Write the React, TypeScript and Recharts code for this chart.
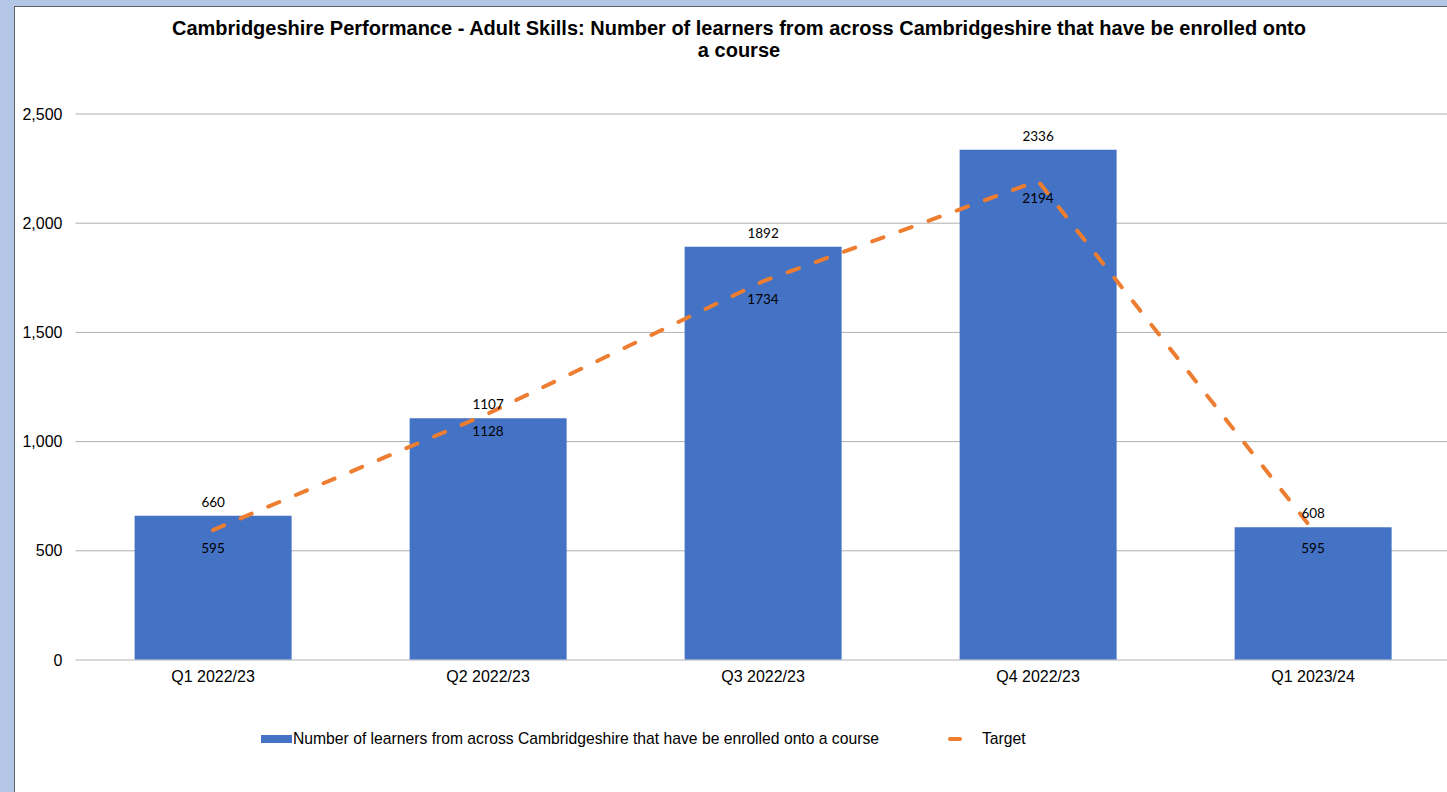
import React from "react";
import {
  ComposedChart,
  Bar,
  Line,
  XAxis,
  YAxis,
  CartesianGrid,
  LabelList,
} from "recharts";

// Quarter labels along the category axis
const quarters = ["Q1 2022/23", "Q2 2022/23", "Q3 2022/23", "Q4 2022/23", "Q1 2023/24"];
// Learners enrolled onto a course, per quarter
const enrolled = [660, 1107, 1892, 2336, 608];
// Target for each quarter
const target = [595, 1128, 1734, 2194, 595];
// Value-axis ticks
const yTicks = [0, 500, 1000, 1500, 2000, 2500];

const titleLines = [
  "Cambridgeshire Performance - Adult Skills: Number of learners from across Cambridgeshire that have be enrolled onto",
  "a course",
];
const barSeriesName = "Number of learners from across Cambridgeshire that have be enrolled onto a course";
const lineSeriesName = "Target";

const rows = quarters.map((q, i) => ({ quarter: q, enrolled: enrolled[i], target: target[i] }));

const BLUE = "#4472C4";
const ORANGE = "#ED7D31";
const AXIS_FONT = "'Liberation Sans', Arial, sans-serif";
const LABEL_FONT = "Lato, 'Open Sans', sans-serif";

export default function App() {
  return (
    <div
      style={{
        position: "fixed",
        left: 0,
        top: 0,
        width: 1447,
        height: 792,
        background: "#B4C7E7",
        overflow: "hidden",
      }}
    >
      <div
        style={{
          position: "absolute",
          left: 14,
          top: 6,
          width: 1480,
          height: 820,
          background: "#FFFFFF",
          borderLeft: "1.5px solid #5f5f5f",
          borderTop: "1.5px solid #5f5f5f",
        }}
      />
      <div
        style={{
          position: "absolute",
          left: 89,
          top: 17,
          width: 1300,
          textAlign: "center",
          fontFamily: AXIS_FONT,
          fontWeight: "bold",
          fontSize: 20,
          lineHeight: "22px",
          color: "#000",
        }}
      >
        {titleLines[0]}
        <br />
        {titleLines[1]}
      </div>

      <div style={{ position: "absolute", left: 0, top: 0 }}>
        <ComposedChart
          width={1480}
          height={700}
          data={rows}
          margin={{ top: 114, right: 29.5, bottom: 10, left: 0 }}
          barCategoryGap="21.5%"
        >
          <CartesianGrid horizontal vertical={false} stroke="#b0b0b0" />
          <XAxis
            dataKey="quarter"
            tickLine={false}
            axisLine={{ stroke: "#d9d9d9" }}
            tickMargin={5}
            height={30}
            tick={{ fill: "#000", fontSize: 16, fontFamily: AXIS_FONT }}
          />
          <YAxis
            width={75.5}
            domain={[0, 2500]}
            ticks={yTicks}
            tickLine={false}
            axisLine={false}
            tickMargin={7}
            tickFormatter={(v: number) => v.toLocaleString("en-US")}
            tick={{ fill: "#000", fontSize: 16, fontFamily: AXIS_FONT }}
          />
          <Bar dataKey="enrolled" name={barSeriesName} fill={BLUE} isAnimationActive={false}>
            <LabelList
              dataKey="enrolled"
              position="top"
              offset={9}
              fill="#000"
              fontSize={13.5}
              fontFamily={LABEL_FONT}
            />
          </Bar>
          <Line
            type="linear"
            dataKey="target"
            name={lineSeriesName}
            stroke={ORANGE}
            strokeWidth={4}
            strokeDasharray="12 18"
            strokeLinecap="round"
            dot={false}
            activeDot={false}
            isAnimationActive={false}
          >
            <LabelList
              dataKey="target"
              position="bottom"
              offset={13}
              fill="#000"
              fontSize={13.5}
              fontFamily={LABEL_FONT}
            />
          </Line>
        </ComposedChart>
      </div>

      {/* legend */}
      <div
        style={{
          position: "absolute",
          left: 261,
          top: 730,
          display: "flex",
          alignItems: "center",
          fontFamily: AXIS_FONT,
          fontSize: 15.7,
          color: "#000",
          whiteSpace: "nowrap",
        }}
      >
        <span style={{ display: "inline-block", width: 31, height: 8, background: BLUE, marginRight: 1 }} />
        <span>{barSeriesName}</span>
        <span
          style={{
            display: "inline-block",
            width: 14,
            height: 4,
            borderRadius: 2,
            background: ORANGE,
            marginLeft: 69,
            marginRight: 20,
          }}
        />
        <span>{lineSeriesName}</span>
      </div>
    </div>
  );
}
